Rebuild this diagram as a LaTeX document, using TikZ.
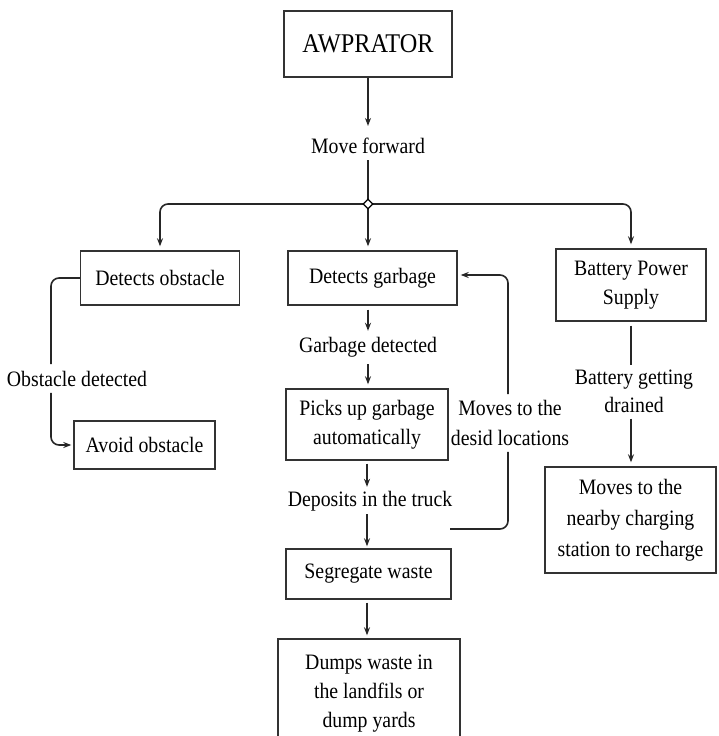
\documentclass[tikz,border=0pt]{standalone}
\usepackage{fontspec}
\setmainfont{Liberation Serif}[FakeStretch=0.9]
\usetikzlibrary{arrows.meta,shapes.geometric}
\tikzset{
  box/.style={draw, line width=1.4pt, draw=black!80, align=center, inner sep=0pt, font=\fontsize{22}{29}\selectfont},
  lbl/.style={align=center, inner sep=0pt, font=\fontsize{22}{28}\selectfont},
  arr/.style={-{Stealth[length=8pt,width=6pt]}},
  ln/.style={line width=1.6pt, draw=black!85},
}
\begin{document}
\begin{tikzpicture}[x=1pt,y=-1pt]
\useasboundingbox (0,0) rectangle (718,736);
\clip (0,0) rectangle (718,736);
% boxes
\node[box, minimum width=168, minimum height=66, font=\fontsize{27}{30}\selectfont] (AW) at (368,44) {AWPRATOR};
\node[box, minimum width=159, minimum height=54] (DO) at (160,278) {Detects obstacle};
\node[box, minimum width=169, minimum height=54] (DG) at (372.5,278) {Detects garbage};
\node[box, minimum width=150, minimum height=72] (BP) at (631,285) {Battery Power\\Supply};
\node[box, minimum width=141, minimum height=48] (AO) at (144.5,445) {Avoid obstacle};
\node[box, minimum width=162, minimum height=71] (PU) at (367,424.5) {Picks up garbage\\automatically};
\node[box, minimum width=165, minimum height=50] (SW) at (368.5,574) {Segregate waste};
\node[box, minimum width=182, minimum height=110] (DW) at (369,694) {Dumps waste in\\the landfils or\\dump yards};
\node[box, minimum width=171, minimum height=106, font=\fontsize{22}{31}\selectfont] (MN) at (630.5,520) {Moves to the\\nearby charging\\station to recharge};
% labels
\node[lbl] (MF) at (368,146) {Move forward};
\node[lbl] (GD) at (368,347) {Garbage detected};
\node[lbl] (DT) at (370,501) {Deposits in the truck};
\node[lbl] (OD) at (77,379) {Obstacle detected};
\node[lbl, font=\fontsize{22}{30}\selectfont] (ML) at (510,423) {Moves to the\\desid locations};
\node[lbl] (BG) at (634,391) {Battery getting\\drained};
\coordinate (J) at (368,204);
\coordinate (FB) at (450,529);
% connectors
\begin{scope}[ln]
\draw[arr, shorten >=12pt] (AW.south) -- (AW.south |- MF.north);
\draw[shorten <=6pt] (MF.south) -- (J);
\draw[arr, rounded corners=8pt, shorten >=4pt] (J) -| (DO.north);
\draw[arr, shorten >=4pt] (J) -- (J |- DG.north);
\draw[arr, rounded corners=8pt, shorten >=4pt] (J) -| (BP.north);
% obstacle branch
\draw[rounded corners=8pt, shorten >=7pt] (DO.west) -| ([xshift=-26pt]OD.north);
\draw[arr, rounded corners=8pt, shorten <=6pt, shorten >=2pt] ([xshift=-26pt]OD.south) |- (AO.west);
% garbage branch
\draw[arr, shorten <=4pt, shorten >=6pt] (DG.south -| GD.north) -- (GD.north);
\draw[arr, shorten <=7pt, shorten >=4pt] (GD.south) -- (GD.south |- PU.north);
\draw[arr, shorten <=3pt, shorten >=4pt] (PU.south) -- (PU.south |- DT.north);
\draw[arr, shorten <=3pt, shorten >=2pt] (DT.south -| PU.south) -- (PU.south |- SW.north);
\draw[arr, shorten <=3pt, shorten >=3pt] (SW.south -| PU.south) -- (PU.south |- DW.north);
% feedback loop
\draw[rounded corners=8pt, shorten >=6pt] (FB) -| ([xshift=-2pt]ML.south);
\draw[arr, rounded corners=8pt, shorten <=6pt, shorten >=3pt] ([xshift=-2pt]ML.north) |- ([yshift=3pt]DG.east);
% battery branch
\draw[shorten <=4pt, shorten >=4pt] (BP.south) -- (BP.south |- BG.north);
\draw[arr, shorten <=6pt, shorten >=4pt] (BP.south |- BG.south) -- (BP.south |- MN.north);
\end{scope}
\node[diamond, draw, line width=1.2pt, fill=white, inner sep=0pt, minimum size=10pt] (JD) at (J) {};
\end{tikzpicture}
\end{document}
